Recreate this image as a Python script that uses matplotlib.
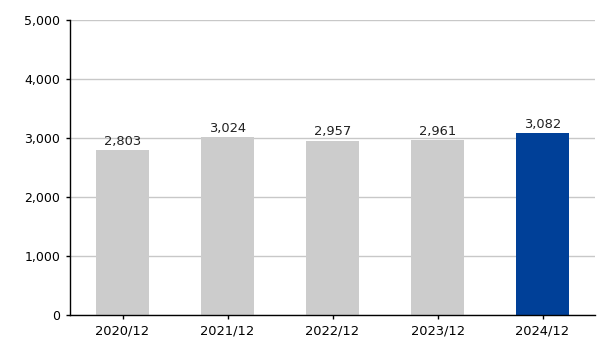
import matplotlib.pyplot as plt
import numpy as np

# dados
anos = ["2020/12", "2021/12", "2022/12", "2023/12", "2024/12"]
valores = [2803, 3024, 2957, 2961, 3082]
cores = ["#cccccc", "#cccccc", "#cccccc", "#cccccc", "#004098"]
yticks = [0, 1000, 2000, 3000, 4000, 5000]

plt.rcParams['font.family'] = ['DejaVu Sans']

fig = plt.figure(figsize=(6.15, 3.45), dpi=100)
ax = fig.add_axes([70 / 615, 30 / 345, 525 / 615, 295 / 345])

x = np.arange(len(anos))
barras = ax.bar(x, valores, width=0.5, color=cores, zorder=2)

for xi, v in zip(x, valores):
    ax.annotate(f"{v:,}", (xi, v), xytext=(0, 1.5), textcoords="offset points",
                ha="center", va="bottom", fontsize=9.4, color="#222222")

ax.set_xlim(-0.5, len(anos) - 0.5)
ax.set_ylim(0, 5000)
ax.set_yticks(yticks)
ax.set_yticklabels([f"{t:,}" for t in yticks])
ax.set_xticks(x)
ax.set_xticklabels(anos)

ax.grid(axis="y", color="#c8c8c8", linewidth=1, zorder=0)
for lado in ["top", "right"]:
    ax.spines[lado].set_visible(False)
ax.spines["left"].set_linewidth(1)
ax.spines["bottom"].set_linewidth(1)
ax.tick_params(axis="both", labelsize=9, length=3, width=1, colors="black", pad=4)
ax.tick_params(axis="x", labelsize=9.4)

fig.savefig("out.png", dpi=100)
